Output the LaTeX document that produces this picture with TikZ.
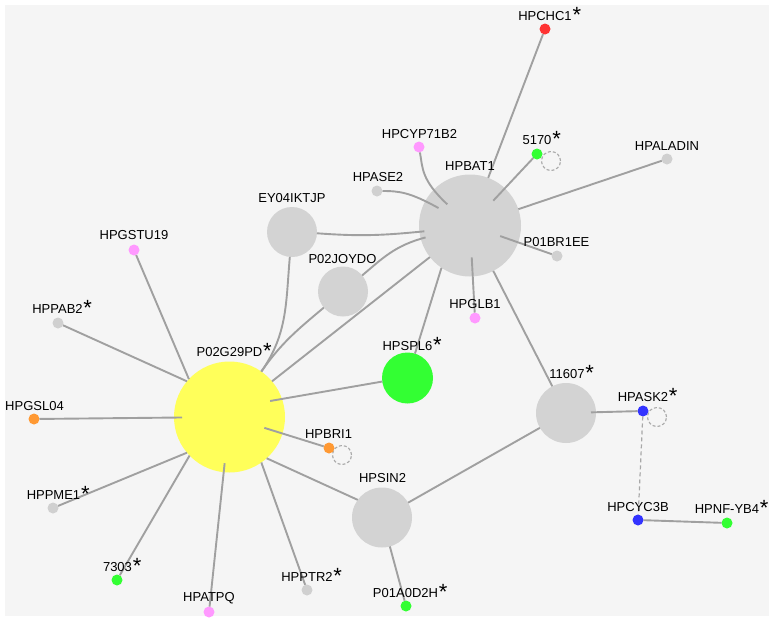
\documentclass[tikz,border=0pt]{standalone}
\usepackage{fontspec}
\setmainfont{Liberation Sans}
\definecolor{bggray}{HTML}{F5F5F5}
\definecolor{edgegray}{HTML}{A0A0A0}
\definecolor{biggray}{HTML}{D3D3D3}
\definecolor{smallgray}{HTML}{D0D0D0}
\definecolor{ghostgray}{HTML}{A8A8A8}
\definecolor{yellowc}{HTML}{FFFF5A}
\definecolor{greenc}{HTML}{33FF33}
\definecolor{pinkc}{HTML}{FF99FF}
\definecolor{orangec}{HTML}{FF9933}
\definecolor{bluec}{HTML}{3333FF}
\definecolor{redc}{HTML}{FF3333}
\newcommand\myast{\rlap{\smash{\kern0.8pt\raisebox{-2pt}{\fontsize{22}{22}\selectfont *}}}}
\begin{document}
\begin{tikzpicture}[x=1pt,y=1pt,
  every node/.style={inner sep=0pt, outer sep=0pt},
  dot/.style={circle, minimum size=11pt, fill=#1},
  big/.style={circle, minimum size=#1},
  edge/.style={draw=edgegray, line width=1.9pt},
  dashedge/.style={draw=ghostgray, line width=1.2pt, dash pattern=on 4pt off 3pt},
  lbl/.style={font=\fontsize{13}{15}\selectfont, text=black},
  ghost/.style={circle, minimum size=19pt, draw=ghostgray, dash pattern=on 3pt off 2pt, line width=1.1pt}
]
\useasboundingbox (0,0) rectangle (774,-622);
\fill[bggray] (5,-5) rectangle (769,-616);

% large nodes
\node[big=111pt, fill=yellowc] (yel) at (229.5,-417) {};
\node[big=102pt, fill=biggray] (hbat) at (470,-225.5) {};
\node[big=50pt, fill=biggray] (ey) at (292,-232) {};
\node[big=50pt, fill=biggray] (pjoy) at (343,-291.5) {};
\node[big=51pt, fill=greenc] (hspl) at (407.5,-378) {};
\node[big=60pt, fill=biggray] (n11607) at (566,-413) {};
\node[big=60pt, fill=biggray] (hsin) at (382,-517.5) {};

% dashed ghost circles
\node[ghost] (g1) at (342,-455) {};
\node[ghost] (g2) at (551,-161) {};
\node[ghost] (g3) at (657,-417) {};

% small nodes
\node[dot=redc] (hchc) at (545,-29) {};
\node[dot=pinkc] (hcyp) at (419,-147) {};
\node[dot=greenc] (n5170) at (537,-154) {};
\node[dot=smallgray] (hala) at (667,-159) {};
\node[dot=smallgray] (hase) at (377,-191) {};
\node[dot=smallgray] (pbr) at (557,-256) {};
\node[dot=pinkc] (hglb) at (475,-318) {};
\node[dot=pinkc] (hgstu) at (134,-250) {};
\node[dot=smallgray] (hppab) at (58,-323) {};
\node[dot=orangec] (hgsl) at (34,-419) {};
\node[dot=orangec] (hbri) at (329,-448) {};
\node[dot=smallgray] (hppme) at (53,-508) {};
\node[dot=greenc] (n7303) at (117,-580) {};
\node[dot=pinkc] (hatpq) at (209,-612) {};
\node[dot=smallgray] (hpptr) at (307,-590) {};
\node[dot=bluec] (hask) at (643,-411) {};
\node[dot=bluec] (hcyc) at (638,-520) {};
\node[dot=greenc] (hnfy) at (727,-523) {};
\node[dot=greenc] (p01a) at (406,-606) {};

% edges around P02G29PD
\draw[edge] (yel.137) -- (hgstu);
\draw[edge] (yel.140) -- (hppab);
\draw[edge, shorten <=-8pt] (yel) -- (hgsl);
\draw[edge, shorten <=-19pt] (yel) -- (hbri);
\draw[edge] (yel.220) -- (hppme);
\draw[edge] (yel.224) -- (n7303);
\draw[edge, shorten <=-9pt] (yel) -- (hatpq);
\draw[edge] (yel.305) -- (hpptr);
\draw[edge] (yel.312) -- (hsin.144);
\draw[edge, shorten >=-12pt] (hspl.188) -- (yel.19);
\draw[edge] (yel.40) -- (hbat);
\draw[edge] (ey) to[out=265, in=55] (yel);
\draw[edge] (pjoy) to[out=220, in=55] (yel);

% edges around HPBAT1
\draw[edge, shorten >=-5pt] (ey) to[bend right=5] (hbat);
\draw[edge, shorten >=-5pt] (pjoy) to[out=40, in=195] (hbat);
\draw[edge, shorten >=-20pt] (hcyp) to[out=-80, in=137] (hbat);
\draw[edge, shorten >=-15pt] (hase) to[out=0, in=151] (hbat);
\draw[edge] (hbat) -- (hchc);
\draw[edge, shorten <=-17pt] (hbat) -- (n5170);
\draw[edge] (hbat) -- (hala);
\draw[edge, shorten <=-19pt] (hbat) -- (pbr);
\draw[edge, shorten <=-19pt] (hbat) -- (hglb);
\draw[edge] (hspl.73) -- (hbat.236);
\draw[edge] (hbat) -- (n11607);

% right part
\draw[edge, shorten <=-5pt] (n11607) -- (hask);
\draw[edge] (hsin) -- (n11607);
\draw[edge] (hsin) -- (p01a);
\draw[dashedge] (hask) -- (hcyc);
\draw[edge] (hcyc) -- (hnfy);

% labels
\node[lbl] (lhchc) at (545,-16) {HPCHC1\myast};
\node[lbl] (lhcyp) at (419.5,-134) {HPCYP71B2};
\node[lbl] (l5170) at (537,-140) {5170\myast};
\node[lbl] (lhala) at (667,-146) {HPALADIN};
\node[lbl] (lhbat) at (470,-166) {HPBAT1};
\node[lbl] (lhase) at (378,-177) {HPASE2};
\node[lbl] (lpbr) at (556.5,-242) {P01BR1EE};
\node[lbl] (ley) at (292,-198.5) {EY04IKTJP};
\node[lbl] (lpjoy) at (342.5,-259) {P02JOYDO};
\node[lbl] (lhgstu) at (134,-235.5) {HPGSTU19};
\node[lbl] (lhppab) at (57.5,-309) {HPPAB2\myast};
\node[lbl] (lyel) at (229.5,-352) {P02G29PD\myast};
\node[lbl] (lhgsl) at (34.5,-406) {HPGSL04};
\node[lbl] (lhbri) at (328.5,-434.5) {HPBRI1};
\node[lbl] (lhppme) at (53.5,-495.5) {HPPME1\myast};
\node[lbl] (l7303) at (117.5,-567) {7303\myast};
\node[lbl] (lhatpq) at (209,-598) {HPATPQ};
\node[lbl] (lhpptr) at (307,-576.5) {HPPTR2\myast};
\node[lbl] (lhspl) at (407.5,-346) {HPSPL6\myast};
\node[lbl] (l11607) at (567,-374.5) {11607\myast};
\node[lbl] (lhask) at (643,-397) {HPASK2\myast};
\node[lbl] (lhsin) at (382.5,-478.5) {HPSIN2};
\node[lbl] (lhcyc) at (638,-507) {HPCYC3B};
\node[lbl] (lhnfy) at (727,-509.5) {HPNF-YB4\myast};
\node[lbl] (lp01a) at (405.5,-593) {P01A0D2H\myast};
\node[lbl] (lhglb) at (475,-304) {HPGLB1};
\end{tikzpicture}
\end{document}
